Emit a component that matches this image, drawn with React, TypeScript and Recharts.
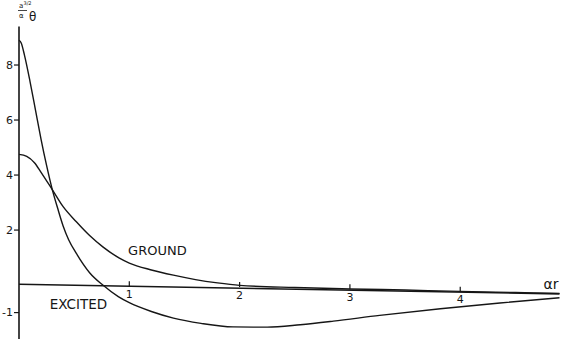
import { LineChart, Line, XAxis, YAxis, ReferenceLine, ReferenceDot } from 'recharts'

// values (x = αr, y = scaled θ)
const excited = [
  { x: 0, y: 8.9 }, { x: 0.02, y: 8.8 }, { x: 0.05, y: 8.35 }, { x: 0.1, y: 7.4 },
  { x: 0.15, y: 6.35 }, { x: 0.2, y: 5.3 }, { x: 0.25, y: 4.35 }, { x: 0.3, y: 3.5 },
  { x: 0.35, y: 2.8 }, { x: 0.4, y: 2.15 }, { x: 0.45, y: 1.65 }, { x: 0.52, y: 1.15 },
  { x: 0.64, y: 0.45 }, { x: 0.76, y: 0 }, { x: 0.9, y: -0.42 }, { x: 1.0, y: -0.64 },
  { x: 1.2, y: -0.96 }, { x: 1.4, y: -1.2 }, { x: 1.65, y: -1.39 }, { x: 1.94, y: -1.52 },
  { x: 2.25, y: -1.53 }, { x: 2.55, y: -1.44 }, { x: 2.85, y: -1.31 }, { x: 3.27, y: -1.1 },
  { x: 3.82, y: -0.86 }, { x: 4.36, y: -0.65 }, { x: 4.9, y: -0.46 },
]

const ground = [
  { x: 0, y: 4.75 }, { x: 0.07, y: 4.68 }, { x: 0.14, y: 4.45 }, { x: 0.2, y: 4.1 },
  { x: 0.3, y: 3.48 }, { x: 0.4, y: 2.85 }, { x: 0.52, y: 2.3 }, { x: 0.64, y: 1.8 },
  { x: 0.76, y: 1.39 }, { x: 0.91, y: 0.98 }, { x: 1.0, y: 0.8 }, { x: 1.2, y: 0.55 },
  { x: 1.4, y: 0.36 }, { x: 1.6, y: 0.2 }, { x: 1.8, y: 0.08 }, { x: 2.0, y: -0.01 },
  { x: 2.5, y: -0.09 }, { x: 3.0, y: -0.14 }, { x: 3.5, y: -0.18 }, { x: 4.0, y: -0.23 },
  { x: 4.5, y: -0.27 }, { x: 4.9, y: -0.3 },
]

// the scanned x axis is slightly tilted
const axisStart = { x: 0, y: 0.03 }
const axisEnd = { x: 4.9, y: -0.32 }
const xTicks = [1, 2, 3, 4]
const xTickBase = [-0.04, -0.07, -0.15, -0.24]
const yTicks = [-1, 2, 4, 6, 8]

const ink = '#161616'
const font = 'DejaVu Sans, sans-serif'

const YLabel = () => (
  <g fontFamily={font} fill={ink}>
    <text x={19} y={8} fontSize={7}>a</text>
    <text x={23.5} y={4.5} fontSize={5}>3/2</text>
    <line x1={18} x2={27} y1={10.5} y2={10.5} stroke={ink} strokeWidth={0.8} />
    <text x={19} y={18} fontSize={7}>α</text>
    <text x={29} y={21} fontSize={12}>θ</text>
  </g>
)

export default function App() {
  return (
    <div style={{ position: 'absolute', left: 0, top: 0, background: '#fff' }}>
      <LineChart width={562} height={339} margin={{ top: 26.5, right: 2.5, bottom: 0, left: 0 }}>
        <XAxis type="number" dataKey="x" domain={[0, 4.9]} hide />
        <YAxis type="number" domain={[-1.96, 9.4]} ticks={yTicks} interval={0} width={19}
          axisLine={{ stroke: ink, strokeWidth: 1.6 }} tickLine={{ stroke: ink, strokeWidth: 1.2 }}
          tickSize={5} tickMargin={1}
          tick={{ fontSize: 11, fill: ink, fontFamily: font }}
          label={{ content: () => <YLabel /> }} />

        <ReferenceLine segment={[axisStart, axisEnd]} stroke={ink} strokeWidth={1.6} />
        {xTicks.map((v, i) => (
          <ReferenceLine key={v} segment={[{ x: v, y: xTickBase[i] }, { x: v, y: xTickBase[i] + 0.18 }]}
            stroke={ink} strokeWidth={1.2}
            label={{ value: String(v), position: 'bottom', offset: 4, fontSize: 11, fill: ink, fontFamily: font }} />
        ))}

        <Line data={ground} dataKey="y" type="monotone" stroke={ink} strokeWidth={1.4} dot={false} isAnimationActive={false} />
        <Line data={excited} dataKey="y" type="monotone" stroke={ink} strokeWidth={1.4} dot={false} isAnimationActive={false} />

        <ReferenceDot x={0.98} y={1.27} r={1} fill="none" stroke="none"
          label={{ value: 'GROUND', position: 'right', offset: 0, fontSize: 13, fill: ink, fontFamily: font }} />
        <ReferenceDot x={0.27} y={-0.69} r={1} fill="none" stroke="none"
          label={{ value: 'EXCITED', position: 'right', offset: 0, fontSize: 13.5, fill: ink, fontFamily: font }} />
        <ReferenceDot x={4.9} y={0.05} r={1} fill="none" stroke="none"
          label={{ value: 'αr', position: 'left', offset: 0, fontSize: 14, fill: ink, fontFamily: font }} />
      </LineChart>
    </div>
  )
}
